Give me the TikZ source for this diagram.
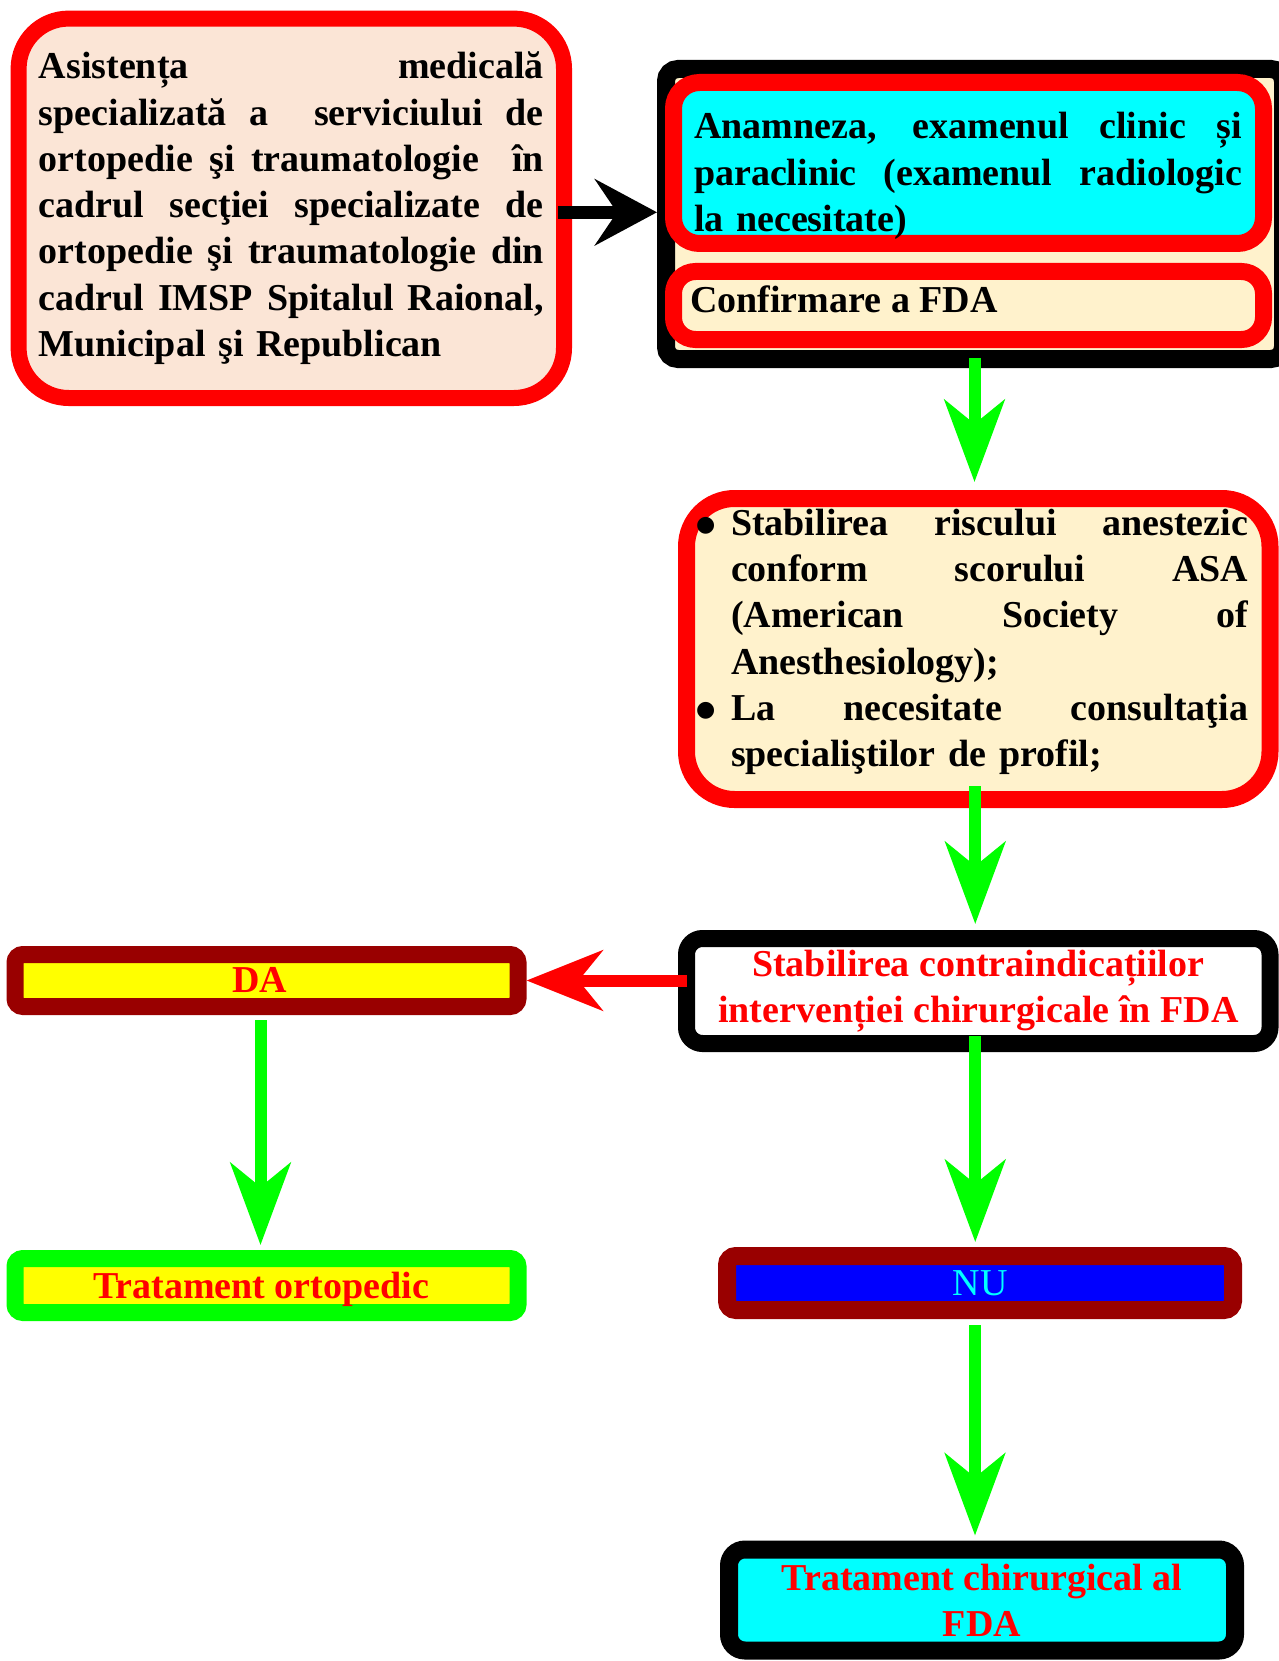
\documentclass[tikz,border=0pt]{standalone}
\usepackage{fontspec}
\setmainfont{Liberation Serif}
\newfontfamily\dejavu{DejaVu Sans}
\usetikzlibrary{arrows.meta,calc}
\definecolor{peach}{HTML}{FBE5D6}
\definecolor{cream}{HTML}{FFF2CC}
\definecolor{dred}{HTML}{990000}
\definecolor{cyanc}{RGB}{0,255,255}
\definecolor{yellowc}{RGB}{255,255,0}
\definecolor{greenc}{RGB}{0,255,0}
\definecolor{redc}{RGB}{255,0,0}
\definecolor{bluec}{RGB}{0,0,255}
\newcommand\jline[1]{\makebox[\linewidth][s]{\spaceskip=.25em plus 1fil\relax #1}}
\newcommand\bul{\llap{\makebox[35pt][l]{\raisebox{4pt}{\dejavu\fontsize{22}{22}\selectfont ●}}}}
\begin{document}
\begin{tikzpicture}[x=1pt,y=-1pt,
  txt/.style={font=\fontsize{38}{46.3}\selectfont\bfseries, inner sep=0pt},
  garrow/.style={draw=greenc, line width=12pt, -{Stealth[length=82pt,width=60pt,inset=24pt]}},
  rarrow/.style={draw=redc, line width=12pt, -{Stealth[length=76pt,width=60pt,inset=24pt]}},
  barrow/.style={draw=black, line width=12.5pt, -{Stealth[length=62pt,width=66pt,inset=22pt]}},
]
\useasboundingbox (0,0) rectangle (1278,1661);

% box 1
\node[draw=redc, line width=16pt, fill=peach, rounded corners=50pt,
  minimum width=545.4pt, minimum height=379.4pt, text width=505pt,
  align=left, txt] (b1) at (291.3,208.3)
  {\jline{Asistența medicală}\\
   \jline{specializată a\ \ serviciului de}\\
   \jline{ortopedie şi traumatologie\ \ în}\\
   \jline{cadrul secţiei specializate de}\\
   \jline{ortopedie şi traumatologie din}\\
   \jline{cadrul IMSP Spitalul Raional,}\\
   Municipal şi Republican};

% box 2 (frame with two inner boxes)
\node[draw=black, line width=18pt, fill=cream, rounded corners=12pt,
  minimum width=617pt, minimum height=290pt] (frame) at (974.5,214) {};
\node[draw=redc, line width=17pt, fill=cyanc, rounded corners=26pt,
  minimum width=590pt, minimum height=161pt] (ra) at (968.5,163) {};
\node[draw=redc, line width=17pt, fill=cream, rounded corners=22pt,
  minimum width=590pt, minimum height=68pt] (rb) at (968.5,305.5) {};
\node[txt, text width=548pt, align=left] (ta) at (968,176)
  {\jline{Anamneza, examenul clinic și}\\
   \jline{paraclinic (examenul radiologic}\\
   la necesitate)};
\node[txt, anchor=west] (tb) at (690,299) {Confirmare a FDA};

% box 3
\node[draw=redc, line width=17pt, fill=cream, rounded corners=48pt,
  minimum width=583.5pt, minimum height=301pt] (s3) at (978.25,649) {};
\node[txt, text width=517pt, align=left] (t3) at (989.5,642)
  {\jline{\bul Stabilirea riscului anestezic}\\
   \jline{conform scorului ASA}\\
   \jline{(American Society of}\\
   Anesthesiology);\\
   \jline{\bul La necesitate consultaţia}\\
   specialiştilor de profil;};

% box 4
\node[draw=black, line width=17pt, fill=white, rounded corners=16pt,
  minimum width=583.5pt, minimum height=105pt, align=center, txt,
  text=redc] (s4) at (978.25,991)
  {Stabilirea contraindicațiilor\\intervenției chirurgicale în FDA};

% DA
\node[draw=dred, line width=17pt, fill=yellowc, rounded corners=8pt,
  minimum width=503pt, minimum height=52pt] (da) at (266.5,980.5) {};
\node[txt, text=redc] (daT) at (260,980) {DA};

% Tratament ortopedic
\node[draw=greenc, line width=17pt, fill=yellowc, rounded corners=8pt,
  minimum width=503pt, minimum height=54pt] (orto) at (266.5,1285.5) {};
\node[txt, text=redc, anchor=base] (ortoT) at (261,1298) {Tratament ortopedic};

% NU
\node[draw=dred, line width=18pt, fill=bluec, rounded corners=9pt,
  minimum width=506pt, minimum height=54pt, txt, font=\fontsize{38}{46.3}\selectfont,
  text=cyanc] (nu) at (980,1283) {NU};

% final
\node[draw=black, line width=18pt, fill=cyanc, rounded corners=16pt,
  minimum width=506pt, minimum height=101pt, align=center, txt,
  text=redc] (fin) at (982,1600) {Tratament chirurgical al\\FDA};

% connectors
\draw[barrow] ($(b1.east)+(-14,4)$) -- ($(b1.east -| frame.west)+(0,4)$);
\draw[garrow] ($(frame.south)+(0,-10)$) -- ($(frame.south |- s3.north)+(0,-8)$);
\draw[garrow] ($(s3.south)+(-3,-22)$) -- ($(s3.south |- s4.north)+(-3,-6)$);
\draw[rarrow] ($(s4.west |- da.east)+(9,0)$) -- (da.east);
\draw[garrow] ($(da.south)+(-6,5)$) -- ($(da.south |- orto.north)+(-6,-5)$);
\draw[garrow] ($(s4.south)+(-3,-16)$) -- ($(s4.south |- nu.north)+(-3,-5)$);
\draw[garrow] ($(nu.south)+(-5,6)$) -- ($(nu.south |- fin.north)+(-5,-5)$);
\end{tikzpicture}
\end{document}
